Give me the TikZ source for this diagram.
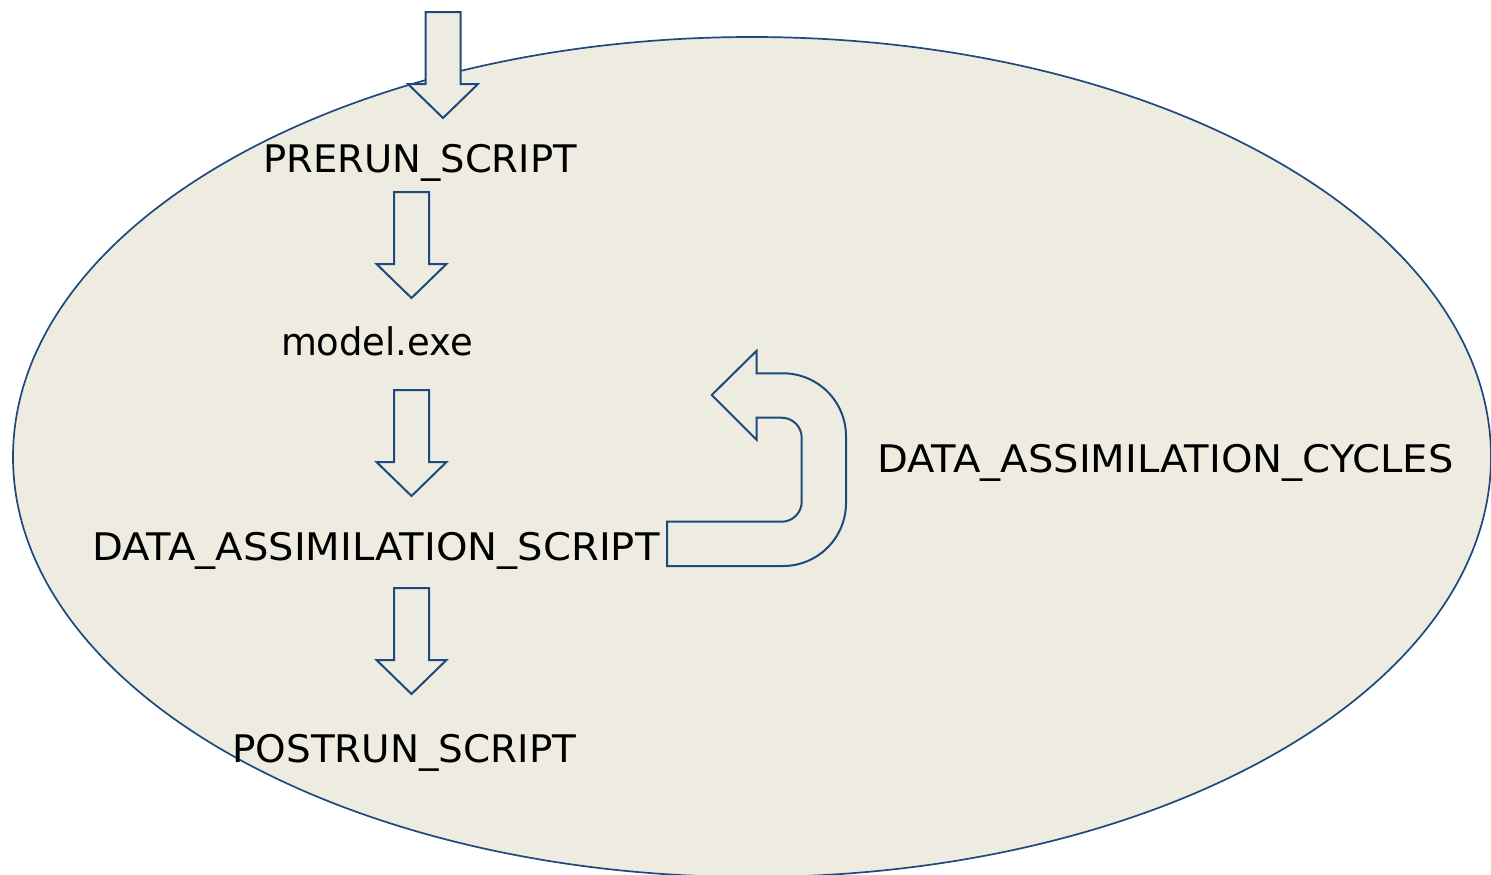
\documentclass[tikz,border=0pt]{standalone}
\usepackage{graphicx}
\usepackage{fontspec}
\setmainfont{DejaVu Sans}[FakeStretch=1.055]
\definecolor{ellfill}{HTML}{EEECE1}
\definecolor{navy}{HTML}{1F497D}
\tikzset{
  arrowline/.style={draw=navy, line width=1pt, fill=ellfill, line join=miter},
  label/.style={font=\fontsize{19pt}{22pt}\selectfont, text=black, inner sep=0pt, anchor=base west},
  downarrow/.pic={
    \path[arrowline] (-17.5,0) -- (17.5,0) -- (17.5,72) -- (35,72) -- (0,106)
      -- (-35,72) -- (-17.5,72) -- cycle;
  }
}
\begin{document}
\begin{tikzpicture}[x=0.5pt,y=-0.5pt]
\useasboundingbox (0,0) rectangle (1491,874);
\clip (0,0) rectangle (1491,874);
% background ellipse
\draw[navy, line width=0.85pt, fill=ellfill] (752,457) ellipse [x radius=739, y radius=420];
% block arrows
\pic at (443,12) {downarrow};
\pic at (411.5,192) {downarrow};
\pic at (411.5,390) {downarrow};
\pic at (411.5,588) {downarrow};
% U-turn arrow
\path[arrowline] (667,521.7) -- (781.7,521.7)
  .. controls (792.7,521.7) and (801.7,512.7) .. (801.7,501.7)
  -- (801.7,437.7)
  .. controls (801.7,426.7) and (792.7,417.7) .. (781.7,417.7)
  -- (756.7,417.7) -- (756.7,440) -- (711.7,395) -- (756.7,350.7) -- (756.7,373.3)
  -- (783,373.3)
  .. controls (817.8,373.3) and (846,401.5) .. (846,436.3)
  -- (846,503)
  .. controls (846,537.8) and (817.8,566) .. (783,566)
  -- (667,566) -- cycle;
% labels
\node[label] (prerun) at (263,172) {\scalebox{0.96}[1]{PRERUN\_SCRIPT}};
\node[label, anchor=base] (model) at (377,355) {\scalebox{0.92}[1]{model.exe}};
\node[label] (dascript) at (92,560) {DATA\_ASSIMILATION\_SCRIPT};
\node[label] (dacycles) at (877,472) {DATA\_ASSIMILATION\_CYCLES};
\node[label] (postrun) at (232,762) {\scalebox{0.97}[1]{POSTRUN\_SCRIPT}};
\end{tikzpicture}
\end{document}
